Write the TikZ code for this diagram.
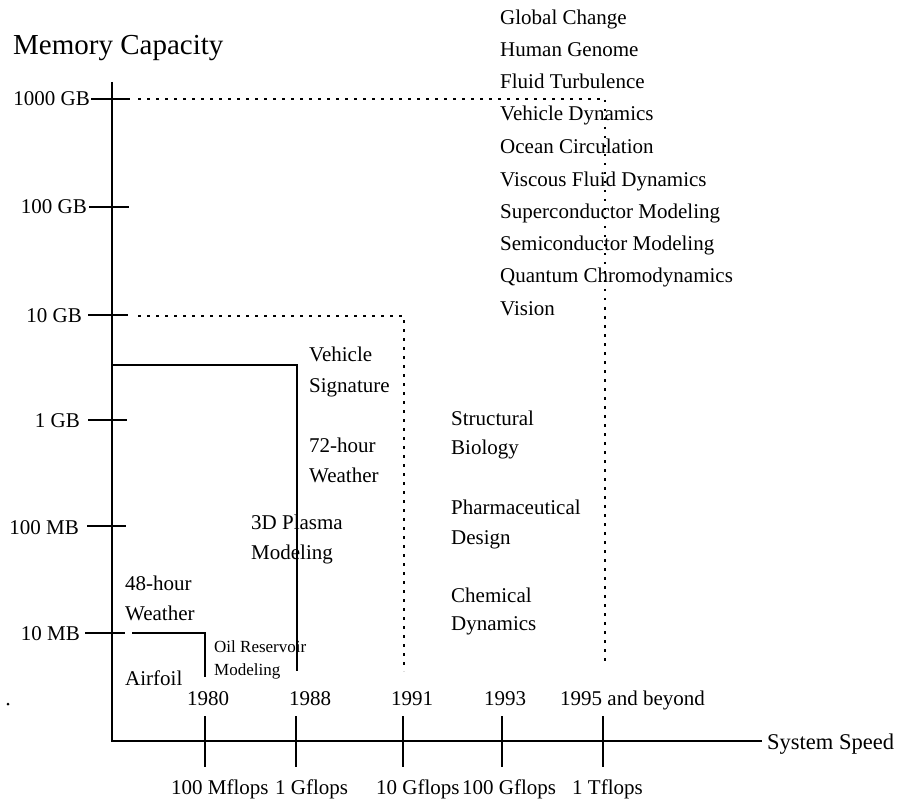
\documentclass[tikz,border=0pt]{standalone}
\usepackage{fontspec}
\setmainfont{Liberation Serif}
\begin{document}
\begin{tikzpicture}[x=1pt,y=-1pt,
  lbl/.style={inner sep=0pt, font=\fontsize{21}{25}\selectfont},
  smalllbl/.style={inner sep=0pt, font=\fontsize{17}{20}\selectfont},
  titlelbl/.style={inner sep=0pt, font=\fontsize{29}{34}\selectfont},
  axisline/.style={line width=1.8pt},
  frameline/.style={line width=1.5pt},
  dotline/.style={line width=1.6pt, dash pattern=on 2.5pt off 6.5pt},
  tickline/.style={line width=1.6pt}]
\useasboundingbox (0,0) rectangle (900,805);

% axes
\coordinate (ytop) at (112,82);
\coordinate (origin) at (112,741);
\coordinate (xend) at (762,741);
\draw[axisline] (ytop) -- (origin) -- (xend);

\node[titlelbl, anchor=base west] (ytitle) at (13,55) {Memory Capacity};
\node[lbl, anchor=base west, font=\fontsize{22.5}{26}\selectfont] (xtitle) at (767,749) {System Speed};

% memory ticks and labels
\coordinate (m1a) at (91,99);  \coordinate (m1b) at (130,99);
\coordinate (m2a) at (89,207); \coordinate (m2b) at (129,207);
\coordinate (m3a) at (88,315); \coordinate (m3b) at (128,315);
\coordinate (m4a) at (88,420); \coordinate (m4b) at (127,420);
\coordinate (m5a) at (87,526); \coordinate (m5b) at (126,526);
\coordinate (m6a) at (85,633); \coordinate (m6b) at (125,633);
\draw[tickline] (m1a) -- (m1b) (m2a) -- (m2b) (m3a) -- (m3b)
                (m4a) -- (m4b) (m5a) -- (m5b) (m6a) -- (m6b);
\node[lbl, anchor=base east] (l1000gb) at (90,106) {1000 GB};
\node[lbl, anchor=base east] (l100gb) at (87,214) {100 GB};
\node[lbl, anchor=base east] (l10gb) at (82,322) {10 GB};
\node[lbl, anchor=base east] (l1gb) at (80,427) {1 GB};
\node[lbl, anchor=base east] (l100mb) at (79,534) {100 MB};
\node[lbl, anchor=base east] (l10mb) at (80,640) {10 MB};

% speed ticks
\foreach \nm/\xx in {s1/205, s2/296, s3/403, s4/502, s5/603}{
  \coordinate (\nm a) at (\xx,716);
  \coordinate (\nm b) at (\xx,767);
  \draw[tickline] (\nm a) -- (\nm b);
}

% years
\node[lbl, anchor=base] (y1980) at (208,705) {1980};
\node[lbl, anchor=base] (y1988) at (310,705) {1988};
\node[lbl, anchor=base] (y1991) at (412,705) {1991};
\node[lbl, anchor=base west] (y1993) at (484,705) {1993};
\node[lbl, anchor=base west] (y1995) at (560,705) {1995 and beyond};

% speeds
\node[lbl, anchor=base west] (f1) at (171,794) {100 Mflops};
\node[lbl, anchor=base west] (f2) at (275,794) {1 Gflops};
\node[lbl, anchor=base west] (f3) at (376,794) {10 Gflops};
\node[lbl, anchor=base west] (f4) at (462,794) {100 Gflops};
\node[lbl, anchor=base west] (f5) at (572,794) {1 Tflops};

% 1980 region (Airfoil, 48-hour weather)
\coordinate (a1) at (132,633);
\coordinate (a2) at (205,633);
\coordinate (a3) at (205,677);
\draw[frameline] (a1) -- (a2) -- (a3);

% 1988 region
\coordinate (b1) at (112,365);
\coordinate (b2) at (297,365);
\coordinate (b3) at (297,671);
\draw[frameline] (b1) -- (b2) -- (b3);

% 1991 region
\coordinate (c1) at (138,316);
\coordinate (c2) at (404,316);
\coordinate (c3) at (404,671);
\draw[dotline] (c1) -- (c2) -- (c3);

% 1995 region
\coordinate (d1) at (138,99);
\coordinate (d2) at (605,99);
\coordinate (d3) at (605,665);
\draw[dotline] (d1) -- (d2) -- (d3);

% applications
\node[lbl, anchor=base west] (airfoil) at (125,685) {Airfoil};
\node[lbl, anchor=base west] (w48a) at (125,590) {48-hour};
\node[lbl, anchor=base west] (w48b) at (125,620) {Weather};
\node[smalllbl, anchor=base west] (oila) at (214,652) {Oil Reservoir};
\node[smalllbl, anchor=base west] (oilb) at (214,675) {Modeling};
\node[lbl, anchor=base west] (pla) at (251,529) {3D Plasma};
\node[lbl, anchor=base west] (plb) at (251,559) {Modeling};
\node[lbl, anchor=base west] (w72a) at (309,452) {72-hour};
\node[lbl, anchor=base west] (w72b) at (309,482) {Weather};
\node[lbl, anchor=base west] (vsa) at (309,361) {Vehicle};
\node[lbl, anchor=base west] (vsb) at (309,392) {Signature};
\node[lbl, anchor=base west] (sba) at (451,425) {Structural};
\node[lbl, anchor=base west] (sbb) at (451,454) {Biology};
\node[lbl, anchor=base west] (pda) at (451,514) {Pharmaceutical};
\node[lbl, anchor=base west] (pdb) at (451,544) {Design};
\node[lbl, anchor=base west] (cda) at (451,602) {Chemical};
\node[lbl, anchor=base west] (cdb) at (451,630) {Dynamics};

% grand challenges
\foreach \nm/\yy/\tx in {g1/25/Global Change, g2/57/Human Genome,
  g3/89/Fluid Turbulence, g4/121/Vehicle Dynamics, g5/154/Ocean Circulation,
  g6/187/Viscous Fluid Dynamics, g7/219/Superconductor Modeling,
  g8/251/Semiconductor Modeling, g9/283/Quantum Chromodynamics, g10/315/Vision}{
  \node[lbl, anchor=base west] (\nm) at (500,\yy) {\tx};
}

% stray mark
\fill (8,704) circle (1.5pt);
\end{tikzpicture}
\end{document}
